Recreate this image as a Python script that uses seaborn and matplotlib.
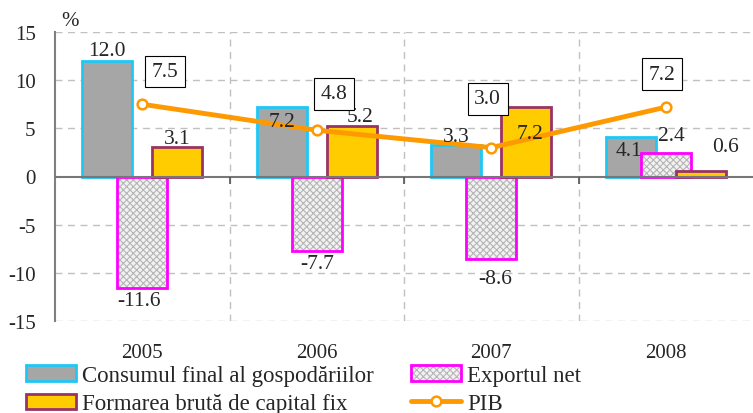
import numpy as np
import pandas as pd
import matplotlib
matplotlib.use("Agg")
import matplotlib.pyplot as plt
from matplotlib.patches import Patch, Rectangle
from matplotlib.lines import Line2D
import seaborn as sns

years = ["2005", "2006", "2007", "2008"]
consum = [12.0, 7.2, 3.3, 4.1]
export_net = [-11.6, -7.7, -8.6, 2.4]
formarea = [3.1, 5.2, 7.2, 0.6]
pib = [7.5, 4.8, 3.0, 7.2]

names = ["Consumul final al gospodăriilor", "Exportul net",
         "Formarea brută de capital fix"]
pib_name = "PIB"

# where the value labels sit relative to the bar end (dx in categories, dy in % points)
consum_lbl = [(0, 1.1), (0, -1.5), (0, 0.9), (-0.01, -1.4)]
export_lbl = [(-0.02, -1.3), (0, -1.3), (0.02, -2.0), (0.03, 1.85)]
formarea_lbl = [(0, 0.85), (0.05, 1.0), (0.02, -2.7), (0.14, 2.5)]
pib_lbl = [(0.13, 3.4), (0.1, 3.8), (-0.02, 5.05), (-0.02, 3.4)]

c_gray, c_cyan = "#a6a6a6", "#1ec8f5"
c_yellow, c_maroon = "#ffcc00", "#993366"
c_magenta, c_orange = "#ff00ff", "#ff9900"

sns.set_style("white")
plt.rcParams["font.family"] = ["Liberation Serif", "DejaVu Serif"]
plt.rcParams["font.size"] = 15
plt.rcParams["axes.unicode_minus"] = False
plt.rcParams["hatch.linewidth"] = 0.8

df = pd.DataFrame({
    "an": years * 3,
    "serie": [names[0]] * 4 + [names[1]] * 4 + [names[2]] * 4,
    "val": consum + export_net + formarea,
})

fig = plt.figure(figsize=(7.53, 4.14), dpi=100)
ax = fig.add_axes([55 / 753, 1 - 322 / 414, 1 - 55 / 753, (322 - 33) / 414])

sns.barplot(data=df, x="an", y="val", hue="serie", hue_order=names,
            palette=[c_gray, "#f2f2f2", c_yellow], saturation=1, width=0.6,
            dodge=True, legend=False, ax=ax, zorder=3)

bw = 50 / 175
edges = [c_cyan, c_magenta, c_maroon]
for k, cont in enumerate(ax.containers):
    for p in cont.patches:
        cx = p.get_x() + p.get_width() / 2
        p.set_x(cx - bw / 2)
        p.set_width(bw)
        p.set_zorder(3 + k * 0.2)
        if k == 1:
            p.set_facecolor("#f2f2f2")
            p.set_edgecolor("#b5b5b5")
            p.set_hatch("xxxxx")
            p.set_linewidth(0)
            ax.add_patch(Rectangle(p.get_xy(), p.get_width(), p.get_height(),
                                   fill=False, ec=c_magenta, lw=2, zorder=3.25))
        else:
            p.set_edgecolor(edges[k])
            p.set_linewidth(2)

# value labels
for k, (vals, offs) in enumerate([(consum, consum_lbl), (export_net, export_lbl),
                                  (formarea, formarea_lbl)]):
    for i, (v, (dx, dy)) in enumerate(zip(vals, offs)):
        ax.text(i + (k - 1) * 0.2 + dx, v + dy, f"{v:.1f}", ha="center",
                va="center", fontsize=15.5, zorder=6)

x = np.arange(len(years))
sns.lineplot(x=x, y=pib, color=c_orange, lw=3.5, marker="o", markersize=7,
             markerfacecolor="white", markeredgecolor=c_orange,
             markeredgewidth=1.8, ax=ax, zorder=5)
for i, (v, (dx, dy)) in enumerate(zip(pib, pib_lbl)):
    ax.text(i + dx, v + dy, f"{v:.1f}", ha="center", va="center", fontsize=15.5,
            zorder=6, bbox=dict(boxstyle="square,pad=0.3", fc="white",
                                ec="black", lw=0.8))

ax.set_xlim(-0.5, 3.5)
ax.set_ylim(-15, 15)
ax.set_yticks([-15, -10, -5, 0, 5, 10, 15])
ax.set_xticks(x)
ax.set_xticklabels(years)
ax.set_xticks([0.5, 1.5, 2.5], minor=True)
ax.set_xlabel("")
ax.set_ylabel("")
ax.tick_params(axis="y", direction="in", length=5, color="#808080", width=1.2,
               pad=14, labelsize=15)
ax.tick_params(axis="x", which="both", length=0, pad=16, labelsize=15)

ax.grid(False)
for yv in [-15, -10, -5, 5, 10, 15]:
    ax.axhline(yv, color="#c0c0c0", lw=1, ls=(0, (5, 4)), zorder=0)
for xv in [0.5, 1.5, 2.5]:
    ax.axvline(xv, color="#c0c0c0", lw=1, ls=(0, (5, 4)), zorder=0)
ax.axhline(0, color="#777777", lw=1.5, zorder=4)
ax.vlines([0.5, 1.5, 2.5], -0.75, 0, color="#555555", lw=1.2, zorder=4)

for s in ["top", "right", "bottom"]:
    ax.spines[s].set_visible(False)
ax.spines["left"].set_color("#808080")
ax.spines["left"].set_linewidth(1.5)

fig.text(70 / 753, 1 - 22 / 414, "%", ha="center", va="center", fontsize=15)

h_consum = Patch(fc=c_gray, ec=c_cyan, lw=2)
h_form = Patch(fc=c_yellow, ec=c_maroon, lw=2)
h_exp = (Patch(fc="#f2f2f2", ec="#b5b5b5", hatch="xxxxx", lw=0),
         Patch(fill=False, ec=c_magenta, lw=2))
h_pib = Line2D([], [], color=c_orange, lw=3.5, marker="o", markersize=7,
               markerfacecolor="white", markeredgecolor=c_orange,
               markeredgewidth=1.8)
fig.legend([h_consum, h_form, h_exp, h_pib],
           [names[0], names[2], names[1], pib_name],
           ncol=2, loc="upper left", bbox_to_anchor=(26 / 753, 1 - 366 / 414),
           frameon=False, borderpad=0, borderaxespad=0, handlelength=2.2,
           handleheight=0.65, handletextpad=0.26, columnspacing=1.6,
           labelspacing=0.32, fontsize=16.5)

fig.savefig("out.png", dpi=100)
